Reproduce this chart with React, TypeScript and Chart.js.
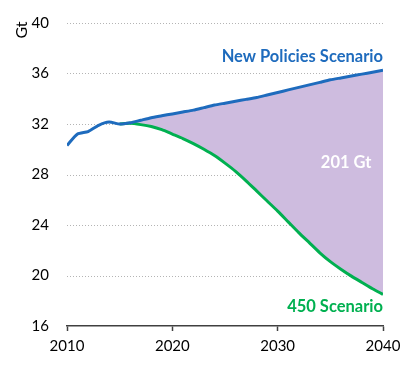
import React, { useEffect, useRef } from "react";
import { Chart, registerables } from "chart.js";

Chart.register(...registerables);

const years = [
  2010, 2011, 2012, 2013, 2014, 2015, 2016, 2017, 2018, 2019, 2020,
  2021, 2022, 2023, 2024, 2025, 2026, 2027, 2028, 2029, 2030,
  2031, 2032, 2033, 2034, 2035, 2036, 2037, 2038, 2039, 2040,
];
const newPolicies = [
  30.3, 31.2, 31.4, 31.9, 32.15, 32.0, 32.1, 32.3, 32.5, 32.65, 32.8,
  32.95, 33.1, 33.3, 33.5, 33.65, 33.8, 33.95, 34.1, 34.3, 34.5,
  34.7, 34.9, 35.1, 35.3, 35.5, 35.65, 35.8, 35.95, 36.1, 36.25,
];
const years450 = [
  2015, 2016, 2017, 2018, 2019, 2020,
  2021, 2022, 2023, 2024, 2025, 2026, 2027, 2028, 2029, 2030,
  2031, 2032, 2033, 2034, 2035, 2036, 2037, 2038, 2039, 2040,
];
const scenario450 = [
  32.0, 32.05, 31.95, 31.8, 31.55, 31.2,
  30.85, 30.45, 30.0, 29.5, 28.9, 28.25, 27.5, 26.7, 25.9, 25.1,
  24.25, 23.4, 22.6, 21.8, 21.1, 20.5, 19.95, 19.45, 18.95, 18.5,
];
const yMin = 16;
const yMax = 40;
const yStep = 4;
const xMin = 2010;
const xMax = 2040;
const xStep = 10;
const yAxisTitle = "Gt";
const labelNewPolicies = "New Policies Scenario";
const label450 = "450 Scenario";
const labelGap = "201 Gt";

const BLUE = "#1e6bbd";
const GREEN = "#00b050";
const PURPLE = "#cebcdf";
const GRID = "#b4b4b4";
const FONT = "Lato, 'Open Sans', sans-serif";

const gridPlugin = {
  id: "dottedGrid",
  beforeDatasetsDraw(chart: any) {
    const { ctx, chartArea, scales } = chart;
    const y = scales.y;
    ctx.save();
    ctx.strokeStyle = GRID;
    ctx.lineWidth = 1;
    ctx.setLineDash([1, 2]);
    y.ticks.forEach((t: any) => {
      if (t.value <= yMin) return;
      const py = Math.round(y.getPixelForValue(t.value)) + 0.5;
      ctx.beginPath();
      ctx.moveTo(chartArea.left, py);
      ctx.lineTo(chartArea.right, py);
      ctx.stroke();
    });
    ctx.restore();
  },
};

const textPlugin = {
  id: "textPlugin",
  afterDatasetsDraw(chart: any) {
    const { ctx, chartArea, scales } = chart;
    const x = scales.x;
    const y = scales.y;
    ctx.save();
    ctx.font = `bold 16.5px ${FONT}`;
    ctx.textBaseline = "middle";
    ctx.textAlign = "right";
    ctx.fillStyle = BLUE;
    ctx.fillText(labelNewPolicies, x.getPixelForValue(2040), y.getPixelForValue(37.3));
    ctx.fillStyle = GREEN;
    ctx.fillText(label450, x.getPixelForValue(2040), y.getPixelForValue(17.55));
    ctx.textAlign = "center";
    ctx.fillStyle = "#ffffff";
    ctx.fillText(labelGap, x.getPixelForValue(2036.5), y.getPixelForValue(28.9));
    // axis title
    ctx.font = `16px ${FONT}`;
    ctx.fillStyle = "#000";
    ctx.translate(chartArea.left - 45, chartArea.top + 7);
    ctx.rotate(-Math.PI / 2);
    ctx.textAlign = "center";
    ctx.fillText(yAxisTitle, 0, 0);
    ctx.restore();
  },
};

export default function App() {
  const ref = useRef<HTMLCanvasElement | null>(null);
  useEffect(() => {
    document.body.style.margin = "0";
    if (!ref.current) return;
    const chart = new Chart(ref.current, {
      type: "line",
      data: {
        datasets: [
          {
            label: labelNewPolicies,
            data: years.map((yr, i) => ({ x: yr, y: newPolicies[i] })),
            borderColor: BLUE,
            borderWidth: 3,
            pointRadius: 0,
            tension: 0.2,
            fill: false,
          },
          {
            label: label450,
            data: years450.map((yr, i) => ({ x: yr, y: scenario450[i] })),
            borderColor: GREEN,
            borderWidth: 3,
            pointRadius: 0,
            tension: 0.2,
            fill: { target: 0 },
            backgroundColor: PURPLE,
          },
        ],
      },
      options: {
        animation: false,
        responsive: false,
        layout: { padding: { top: 23, right: 20, left: 0, bottom: 0 } },
        plugins: {
          legend: { display: false },
          tooltip: { enabled: false },
          filler: { propagate: false },
        },
        scales: {
          x: {
            type: "linear",
            min: xMin,
            max: xMax,
            afterFit: (s: any) => {
              s.height = 42;
              s.paddingLeft = 0;
              s.paddingRight = 0;
            },
            ticks: {
              stepSize: xStep,
              color: "#000",
              font: { family: FONT, size: 15 },
              padding: 6,
              maxRotation: 0,
              callback: (v: any) => String(v),
            },
            grid: {
              display: true,
              drawOnChartArea: false,
              drawTicks: true,
              tickLength: 5,
              tickColor: "#404040",
              tickWidth: 1.5,
            },
            border: { display: true, color: "#404040", width: 1.5, z: 1 },
          },
          y: {
            min: yMin,
            max: yMax,
            afterFit: (s: any) => {
              s.width = 67;
            },
            ticks: {
              stepSize: yStep,
              color: "#000",
              font: { family: FONT, size: 15 },
              padding: 10,
            },
            grid: { display: false },
            border: { display: false },
          },
        },
      },
      plugins: [gridPlugin, textPlugin],
    });
    return () => chart.destroy();
  }, []);
  return <canvas ref={ref} width={403} height={368} style={{ display: "block" }} />;
}
